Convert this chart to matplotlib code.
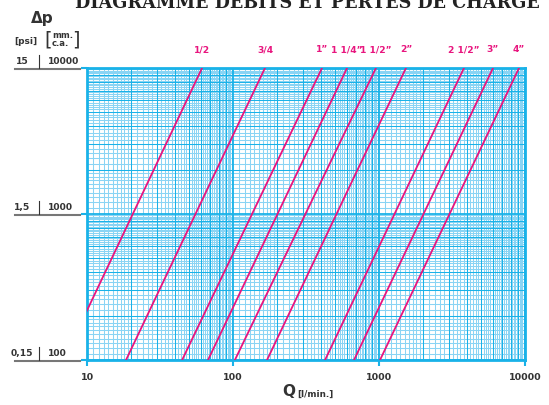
import numpy as np
import matplotlib
matplotlib.use('Agg')
import matplotlib.pyplot as plt
from matplotlib.transforms import blended_transform_factory

plt.rcParams['font.family'] = ['DejaVu Sans']

# pipe sizes and flow Q [l/min] where each line crosses 100 and 10000 mm c.a.
sizes = ['1/2', '3/4', '1\u201d', '1 1/4\u201d', '1 1/2\u201d', '2\u201d', '2 1/2\u201d', '3\u201d', '4\u201d']
q_at_100 = [6.9, 18.5, 44.8, 67.4, 103, 171, 427, 674, 1016]
q_at_10000 = [61.4, 165.6, 407, 604, 953, 1530, 3819, 6040, 9100]
dp_ends = [100, 10000]

x_ticks = [10, 100, 1000, 10000]
x_ticklabels = ['10', '100', '1000', '10000']
y_ticks = [10000, 1000, 100]
mm_labels = ['10000', '1000', '100']
psi_labels = ['15', '1,5', '0,15']

CYAN = '#19b2e8'
CYAN_LIGHT = '#8ad4f4'
MAGENTA = '#e8157e'
DARK = '#333333'
GREY = '#777777'

fig = plt.figure(figsize=(5.49, 4.05), dpi=100)
ax = fig.add_axes([0.1585, 0.1111, 0.7978, 0.721])
ax.set_xscale('log')
ax.set_yscale('log')
ax.set_xlim(10, 10000)
ax.set_ylim(100, 10000)

# log paper grid
def grid_vals(lo, hi):
	fine, mid, major = [], [], []
	d = lo
	while d < hi:
		for v in np.arange(1.1, 2.0, 0.1):
			fine.append(v * d)
		for v in np.arange(2.2, 10.0, 0.2):
			if abs(v - round(v)) > 1e-6:
				fine.append(v * d)
		for v in range(2, 10):
			mid.append(v * d)
		major.append(d)
		d *= 10
	major.append(hi)
	return fine, mid, major

xf, xm, xM = grid_vals(10, 10000)
yf, ym, yM = grid_vals(100, 10000)
ax.vlines(xf, 100, 10000, color=CYAN_LIGHT, lw=0.75, zorder=1)
ax.hlines(yf, 10, 10000, color=CYAN_LIGHT, lw=0.75, zorder=1)
ax.vlines(xm, 100, 10000, color=CYAN, lw=0.75, zorder=2)
ax.hlines(ym, 10, 10000, color=CYAN, lw=0.75, zorder=2)
ax.vlines(xM, 100, 10000, color=CYAN, lw=1.3, zorder=2)
ax.hlines(yM, 10, 10000, color=CYAN, lw=1.3, zorder=2)

for s in ax.spines.values():
	s.set_color(CYAN)
	s.set_linewidth(2)

# pipe lines
for name, q1, q2 in zip(sizes, q_at_100, q_at_10000):
	ax.plot([q1, q2], dp_ends, color=MAGENTA, lw=1.3, zorder=3)
	ax.text(q2, 13300, name, color=MAGENTA, fontsize=6.6, fontweight='bold',
		ha='center', va='center', clip_on=False)

ax.set_xticks(x_ticks)
ax.set_xticklabels(x_ticklabels, fontsize=6.8, fontweight='bold', color=DARK)
ax.set_xticks([], minor=True)
ax.set_yticks(y_ticks)
ax.set_yticklabels([])
ax.set_yticks([], minor=True)
ax.tick_params(axis='both', which='major', length=4, width=1.5, color=CYAN, direction='out', pad=5)

# left side pressure labels
tr = blended_transform_factory(fig.transFigure, ax.transData)
for psi, mm, y in zip(psi_labels, mm_labels, y_ticks):
	fig.text(22 / 549, y * 1.04, psi, transform=tr, fontsize=6.6, fontweight='bold',
		color=DARK, ha='center', va='bottom')
	fig.text(48 / 549, y * 1.04, mm, transform=tr, fontsize=6.6, fontweight='bold',
		color=DARK, ha='left', va='bottom')
	fig.add_artist(plt.Line2D([15 / 549, 80 / 549], [y * 0.98, y * 0.98], transform=tr, color=GREY, lw=1.5))
	fig.add_artist(plt.Line2D([39 / 549, 39 / 549], [y * 1.0, y * 1.22], transform=tr, color=DARK, lw=0.8))

# header texts
fig.text(42 / 549, 1 - 18 / 405, '\u0394p', fontsize=11, fontweight='bold', color=DARK, ha='center', va='center')
fig.text(26 / 549, 1 - 41 / 405, '[psi]', fontsize=6.5, fontweight='bold', color=DARK, ha='center', va='center')
fig.text(48.5 / 549, 1 - 40 / 405, '[', fontsize=14, color=DARK, ha='center', va='center')
fig.text(76 / 549, 1 - 40 / 405, ']', fontsize=14, color=DARK, ha='center', va='center')
fig.text(52 / 549, 1 - 35 / 405, 'mm.', fontsize=6.1, fontweight='bold', color=DARK, ha='left', va='center')
fig.text(52 / 549, 1 - 44 / 405, 'c.a.', fontsize=6.1, fontweight='bold', color=DARK, ha='left', va='center')

fig.text(307 / 549, 1 - 8 / 405, 'DIAGRAMME D\u00c9BITS ET PERTES DE CHARGE', fontsize=12.7,
	fontweight='heavy', family='DejaVu Serif', color='#222222', ha='center', va='baseline')

fig.text(289 / 549, 1 - 391 / 405, 'Q', fontsize=11, fontweight='bold', color=DARK, ha='center', va='center')
fig.text(297 / 549, 1 - 394 / 405, '[l/min.]', fontsize=6.3, fontweight='bold', color=DARK, ha='left', va='center')

fig.savefig('out.png', dpi=100)
